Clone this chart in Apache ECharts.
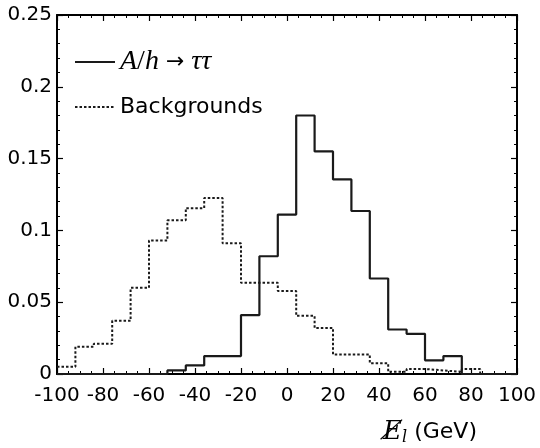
<!DOCTYPE html>
<html>
<head>
<meta charset="utf-8">
<script src="https://cdn.jsdelivr.net/npm/echarts@6/dist/echarts.min.js"></script>
<style>
  html, body { margin: 0; padding: 0; background: #fff; }
  #chart { width: 540px; height: 448px; }
</style>
</head>
<body>
<div id="chart"></div>
<script>
// left edges of the 8 GeV bins, last bin closes at 100
const binEdges = [-100, -92, -84, -76, -68, -60, -52, -44, -36, -28, -20, -12, -4,
  4, 12, 20, 28, 36, 44, 52, 60, 68, 76, 84, 92]
const histEnd = 100

const signal = [0, 0, 0, 0, 0, 0, 0.0025, 0.006, 0.0125, 0.0125, 0.041, 0.082, 0.111,
  0.18, 0.155, 0.1355, 0.1135, 0.0665, 0.031, 0.028, 0.0095, 0.0125, 0, 0, 0]

const backgrounds = [0.005, 0.019, 0.021, 0.037, 0.06, 0.093, 0.107, 0.1155, 0.1225,
  0.091, 0.0635, 0.0635, 0.0578, 0.0405, 0.032, 0.0135, 0.0135, 0.0075, 0.0015,
  0.0035, 0.0025, 0.0015, 0.0035, 0, 0]

const seriesNames = ['signal', 'Backgrounds']

// step line through the bin edges, closing at the right end
const toSteps = (vals) => {
  const pts = vals.map((v, i) => [binEdges[i], v])
  pts.push([histEnd, vals[vals.length - 1]])
  return pts
}

const chart = echarts.init(document.getElementById('chart'), null, { renderer: 'canvas' })

const frameLine = { show: true, onZero: false, lineStyle: { color: '#000', width: 2 } }
const majorTicks = { show: true, inside: true, length: 6, lineStyle: { color: '#000', width: 1.2 } }
const xMinor = { show: true, splitNumber: 4, length: 3, lineStyle: { color: '#000', width: 1 } }
const yMinor = { show: true, splitNumber: 5, length: 3, lineStyle: { color: '#000', width: 1 } }
const tickFont = { fontFamily: 'DejaVu Sans', fontSize: 20, color: '#000' }

const option = {
  backgroundColor: '#fff',
  animation: false,
  grid: { left: 57, right: 23, top: 15, bottom: 74 },
  legend: {
    orient: 'vertical',
    left: 74,
    top: 48,
    padding: 0,
    itemWidth: 40,
    itemHeight: 10,
    itemGap: 17,
    itemStyle: { opacity: 0 },
    data: seriesNames,
    formatter: (name) => name === 'signal'
      ? '{m|A}{u|/}{m|h}{a| → }{m|ττ}'
      : name,
    textStyle: {
      fontFamily: 'DejaVu Sans',
      fontSize: 22,
      color: '#000',
      lineHeight: 28,
      rich: {
        m: { fontFamily: 'Liberation Serif', fontStyle: 'italic', fontSize: 28, color: '#000', lineHeight: 28 },
        u: { fontFamily: 'Liberation Serif', fontSize: 28, color: '#000', lineHeight: 28 },
        a: { fontFamily: 'DejaVu Sans', fontSize: 22, color: '#000', lineHeight: 28 }
      }
    }
  },
  xAxis: [
    {
      type: 'value',
      position: 'bottom',
      min: -100,
      max: 100,
      interval: 20,
      axisLine: frameLine,
      axisTick: majorTicks,
      minorTick: xMinor,
      splitLine: { show: false },
      axisLabel: Object.assign({ margin: 12 }, tickFont),
      name: '{e|E\u0338}{l|l}{g| (GeV)}',
      nameLocation: 'end',
      nameGap: -40,
      nameTextStyle: {
        align: 'right',
        verticalAlign: 'top',
        padding: [44, 0, 0, 0],
        rich: {
          e: { fontFamily: 'DejaVu Serif', fontStyle: 'italic', fontSize: 26, color: '#000', lineHeight: 28 },
          l: { fontFamily: 'DejaVu Serif', fontStyle: 'italic', fontSize: 16, color: '#000', verticalAlign: 'bottom', lineHeight: 22 },
          g: { fontFamily: 'DejaVu Sans', fontSize: 22, color: '#000', lineHeight: 28 }
        }
      }
    },
    {
      type: 'value',
      position: 'top',
      min: -100,
      max: 100,
      interval: 20,
      axisLine: frameLine,
      axisTick: majorTicks,
      minorTick: xMinor,
      splitLine: { show: false },
      axisLabel: { show: false }
    }
  ],
  yAxis: [
    {
      type: 'value',
      position: 'left',
      min: 0,
      max: 0.25,
      interval: 0.05,
      axisLine: frameLine,
      axisTick: majorTicks,
      minorTick: yMinor,
      splitLine: { show: false },
      axisLabel: Object.assign({ margin: 5, padding: [7, 0, 0, 0] }, tickFont)
    },
    {
      type: 'value',
      position: 'right',
      min: 0,
      max: 0.25,
      interval: 0.05,
      axisLine: frameLine,
      axisTick: majorTicks,
      minorTick: yMinor,
      splitLine: { show: false },
      axisLabel: { show: false }
    }
  ],
  series: [
    {
      name: seriesNames[0],
      type: 'line',
      step: 'end',
      symbol: 'none',
      xAxisIndex: 0,
      yAxisIndex: 0,
      data: toSteps(signal),
      lineStyle: { color: '#1a1a1a', width: 2.2 },
      itemStyle: { color: '#1a1a1a' }
    },
    {
      name: seriesNames[1],
      type: 'line',
      step: 'end',
      symbol: 'none',
      xAxisIndex: 0,
      yAxisIndex: 0,
      data: toSteps(backgrounds),
      lineStyle: { color: '#1a1a1a', width: 2, type: [2.5, 2] },
      itemStyle: { color: '#1a1a1a' }
    }
  ]
}

chart.setOption(option)
</script>
</body>
</html>
